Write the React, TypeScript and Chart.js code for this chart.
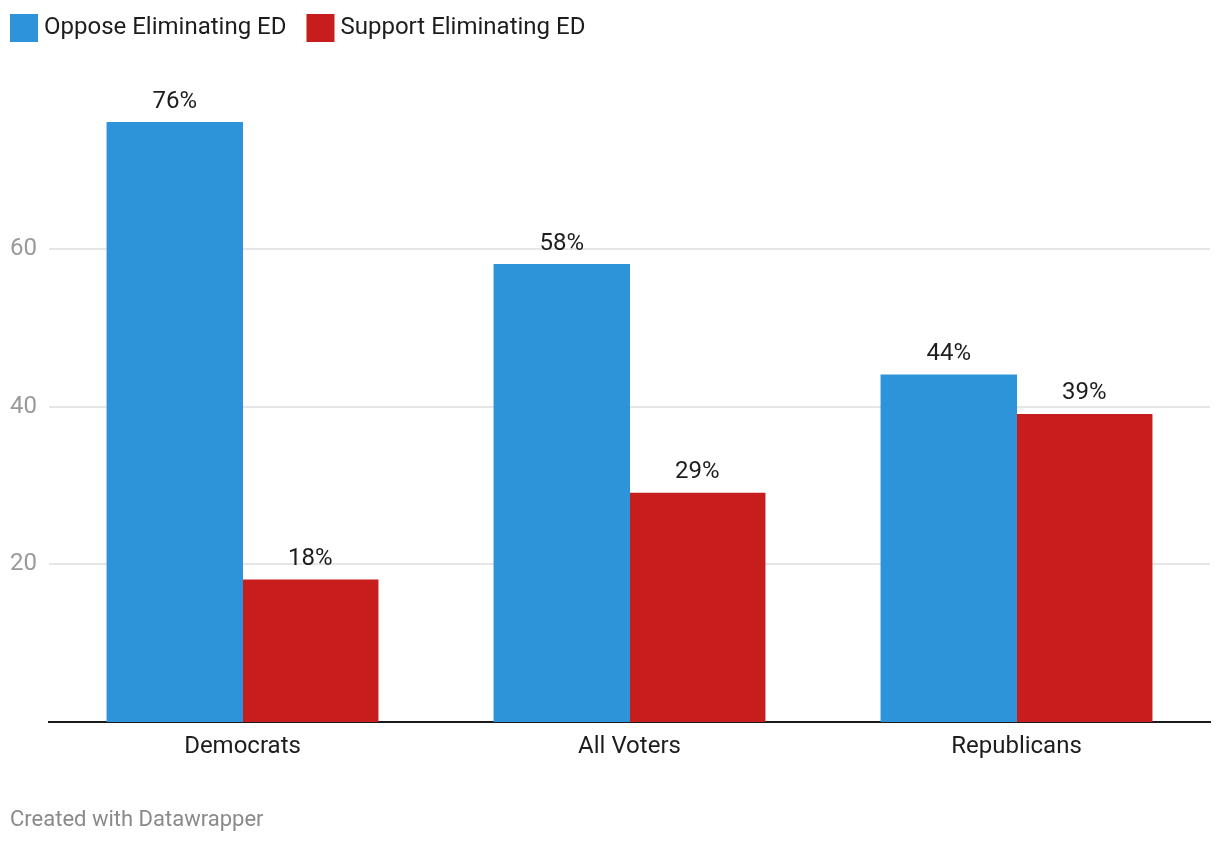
import React, { useEffect, useRef } from "react";
import { Chart, registerables } from "chart.js";

Chart.register(...registerables);

const categories = ["Democrats", "All Voters", "Republicans"];
const opposeValues = [76, 58, 44];
const supportValues = [18, 29, 39];
const seriesNames = ["Oppose Eliminating ED", "Support Eliminating ED"];
const seriesColors = ["#2d94d9", "#c71e1d"];
const yTicks = [20, 40, 60];
const footerText = "Created with Datawrapper";

const FONT = "Roboto, 'Noto Sans', sans-serif";

const overlayPlugin = {
  id: "overlay",
  afterDatasetsDraw(chart: any) {
    const ctx = chart.ctx;
    ctx.save();
    // value labels
    ctx.font = `24px ${FONT}`;
    ctx.fillStyle = "#1d1d1d";
    ctx.textAlign = "center";
    ctx.textBaseline = "alphabetic";
    chart.data.datasets.forEach((ds: any, di: number) => {
      const meta = chart.getDatasetMeta(di);
      meta.data.forEach((bar: any, i: number) => {
        ctx.fillText(`${ds.data[i]}%`, bar.x, bar.y - 15);
      });
    });
    // legend
    let x = 10;
    ctx.textAlign = "left";
    chart.data.datasets.forEach((ds: any) => {
      ctx.fillStyle = ds.backgroundColor;
      ctx.fillRect(x, 14, 28, 28);
      ctx.fillStyle = "#1d1d1d";
      ctx.font = `24px ${FONT}`;
      const tx = x + 34;
      ctx.fillText(ds.label, tx, 34);
      x = tx + ctx.measureText(ds.label).width + 20;
    });
    // footer
    ctx.font = `22px ${FONT}`;
    ctx.fillStyle = "#8a8a8a";
    ctx.fillText(footerText, 10, 826);
    ctx.restore();
  },
};

export default function App() {
  const ref = useRef<HTMLCanvasElement>(null);
  useEffect(() => {
    if (!ref.current) return;
    const chart = new Chart(ref.current, {
      type: "bar",
      data: {
        labels: categories,
        datasets: [
          { label: seriesNames[0], data: opposeValues, backgroundColor: seriesColors[0], inflateAmount: 0.5 },
          { label: seriesNames[1], data: supportValues, backgroundColor: seriesColors[1], inflateAmount: 0.5 },
        ],
      },
      options: {
        responsive: false,
        animation: false,
        devicePixelRatio: 1,
        layout: { padding: { top: 91, left: 10, right: 10, bottom: 0 } },
        datasets: { bar: { categoryPercentage: 0.7, barPercentage: 1 } },
        plugins: { legend: { display: false }, tooltip: { enabled: false } },
        scales: {
          x: {
            grid: { display: false, drawTicks: false },
            border: { display: true, color: "#1a1a1a", width: 2 },
            ticks: { color: "#1d1d1d", font: { family: FONT, size: 24 }, padding: 11 },
            afterFit: (s: any) => { s.height = 122; },
          },
          y: {
            min: 0,
            max: 80,
            border: { display: false },
            grid: { color: "#e6e6e6", lineWidth: 2, drawTicks: false },
            ticks: { color: "#9a9a9a", font: { family: FONT, size: 24 }, crossAlign: "far", padding: 0 },
            afterBuildTicks: (s: any) => { s.ticks = yTicks.map((v) => ({ value: v })); },
            afterFit: (s: any) => { s.width = 39; },
          },
        },
      },
      plugins: [overlayPlugin],
    } as any);
    return () => chart.destroy();
  }, []);
  return (
    <div style={{ position: "fixed", left: 0, top: 0, width: 1220, height: 844, background: "#fff" }}>
      <canvas ref={ref} width={1220} height={844} style={{ display: "block" }} />
    </div>
  );
}
